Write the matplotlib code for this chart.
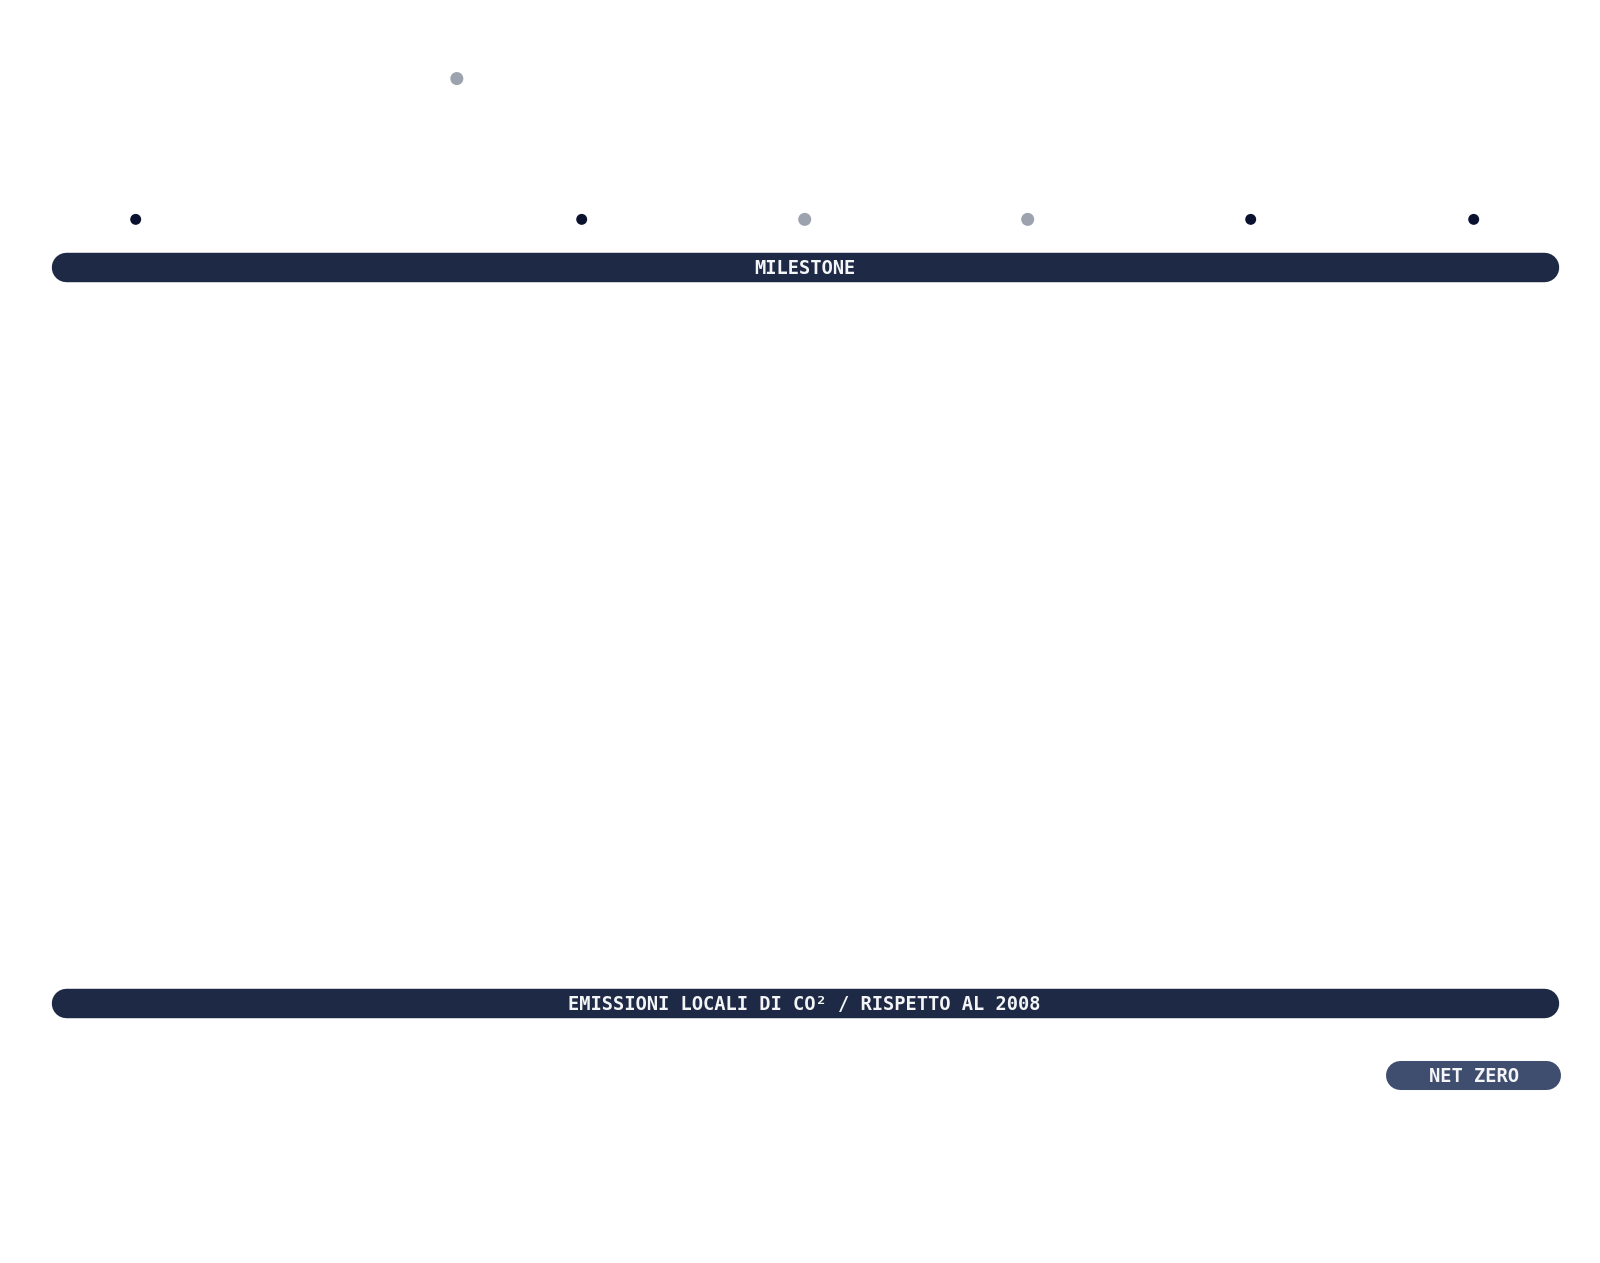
import matplotlib
matplotlib.use("Agg")
import matplotlib.pyplot as plt

# milestones along the timeline (one unit = one step between dots)
milestone_x = [0, 1.44, 2, 3, 4, 5, 6]
milestone_row = [0, 1, 0, 0, 0, 0, 0]          # 1 = raised dot
milestone_done = [True, False, True, False, False, True, True]

band_labels = ["MILESTONE", "EMISSIONI LOCALI DI CO² / RISPETTO AL 2008"]
band_rows = [-0.34, -5.565]
tag_label = "NET ZERO"
tag_x = 6
tag_row = -6.08

dark_dot = "#0b1230"
grey_dot = "#9ca3af"
band_col = "#1e2a45"
tag_col = "#3f4d6e"
txt_font = "DejaVu Sans Mono"

fig = plt.figure(figsize=(16, 12.63), dpi=100)
ax = fig.add_axes([0, 0, 1, 1])
ax.set_xlim(-135.7 / 223, (1600 - 135.7) / 223)
ax.set_ylim(-7.412, 1.558)
ax.axis("off")

# dots
for x, r, done in zip(milestone_x, milestone_row, milestone_done):
    ax.scatter(x, r, s=62 if done else 88, color=dark_dot if done else grey_dot,
               edgecolors="none", zorder=3)

# long bands with rounded ends
for lab, r in zip(band_labels, band_rows):
    ax.plot([-0.3137, 6.3137], [r, r], color=band_col, lw=21.2,
            solid_capstyle="round", zorder=2)
    ax.text(3.0, r - 0.047, lab, ha="center", va="baseline", color="#f4f5f7",
            fontsize=13.5, fontweight="bold", family=txt_font, zorder=4)

# net zero tag
ax.plot([tag_x - 0.33, tag_x + 0.322], [tag_row, tag_row], color=tag_col, lw=20.9,
        solid_capstyle="round", zorder=2)
ax.text(tag_x, tag_row - 0.047, tag_label, ha="center", va="baseline", color="#f4f5f7",
        fontsize=13.5, fontweight="bold", family=txt_font, zorder=4)

fig.savefig("out.png", dpi=100, facecolor="white")
